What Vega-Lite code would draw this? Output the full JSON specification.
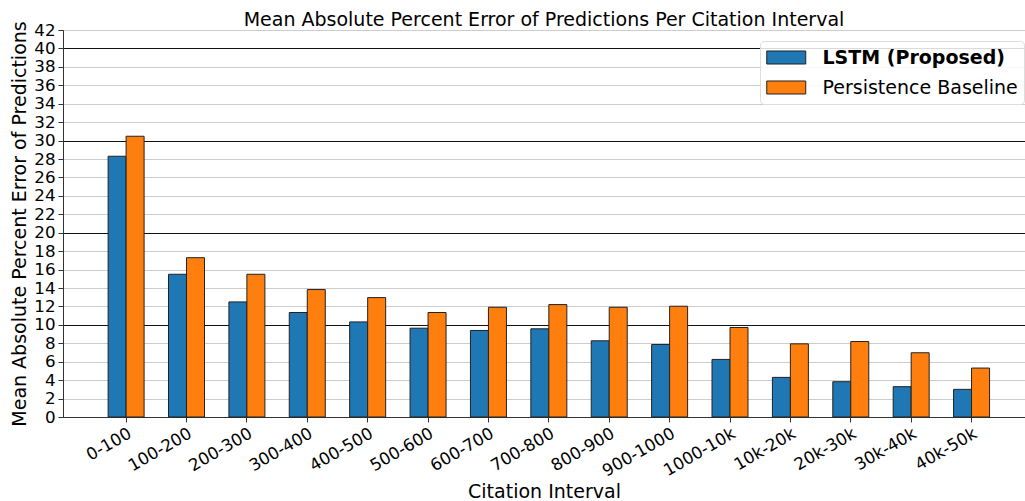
{
  "$schema": "https://vega.github.io/schema/vega-lite/v6.json",
  "width": 962,
  "height": 387,
  "autosize": {"type": "none"},
  "padding": {"left": 63, "top": 30, "right": 0, "bottom": 84},
  "background": "white",
  "config": {
    "font": "DejaVu Sans",
    "view": {"stroke": "#666", "strokeWidth": 1},
    "axis": {"labelFont": "DejaVu Sans", "titleFont": "DejaVu Sans", "labelColor": "#000", "titleColor": "#000", "titleFontWeight": "normal"}
  },
  "title": {"text": "Mean Absolute Percent Error of Predictions Per Citation Interval", "fontSize": 19, "fontWeight": "normal", "font": "DejaVu Sans", "color": "#000", "frame": "group", "offset": 4, "baseline": "alphabetic", "anchor": "middle", "dy": 28},
  "data": {
    "values": [
      {"interval": "0-100", "model": "LSTM (Proposed)", "mape": 28.3},
      {"interval": "0-100", "model": "Persistence Baseline", "mape": 30.47},
      {"interval": "100-200", "model": "LSTM (Proposed)", "mape": 15.49},
      {"interval": "100-200", "model": "Persistence Baseline", "mape": 17.29},
      {"interval": "200-300", "model": "LSTM (Proposed)", "mape": 12.49},
      {"interval": "200-300", "model": "Persistence Baseline", "mape": 15.49},
      {"interval": "300-400", "model": "LSTM (Proposed)", "mape": 11.34},
      {"interval": "300-400", "model": "Persistence Baseline", "mape": 13.83},
      {"interval": "400-500", "model": "LSTM (Proposed)", "mape": 10.32},
      {"interval": "400-500", "model": "Persistence Baseline", "mape": 12.96},
      {"interval": "500-600", "model": "LSTM (Proposed)", "mape": 9.64},
      {"interval": "500-600", "model": "Persistence Baseline", "mape": 11.34},
      {"interval": "600-700", "model": "LSTM (Proposed)", "mape": 9.39},
      {"interval": "600-700", "model": "Persistence Baseline", "mape": 11.91},
      {"interval": "700-800", "model": "LSTM (Proposed)", "mape": 9.57},
      {"interval": "700-800", "model": "Persistence Baseline", "mape": 12.2},
      {"interval": "800-900", "model": "LSTM (Proposed)", "mape": 8.27},
      {"interval": "800-900", "model": "Persistence Baseline", "mape": 11.91},
      {"interval": "900-1000", "model": "LSTM (Proposed)", "mape": 7.87},
      {"interval": "900-1000", "model": "Persistence Baseline", "mape": 12.02},
      {"interval": "1000-10k", "model": "LSTM (Proposed)", "mape": 6.25},
      {"interval": "1000-10k", "model": "Persistence Baseline", "mape": 9.71},
      {"interval": "10k-20k", "model": "LSTM (Proposed)", "mape": 4.3},
      {"interval": "10k-20k", "model": "Persistence Baseline", "mape": 7.94},
      {"interval": "20k-30k", "model": "LSTM (Proposed)", "mape": 3.83},
      {"interval": "20k-30k", "model": "Persistence Baseline", "mape": 8.19},
      {"interval": "30k-40k", "model": "LSTM (Proposed)", "mape": 3.29},
      {"interval": "30k-40k", "model": "Persistence Baseline", "mape": 6.97},
      {"interval": "40k-50k", "model": "LSTM (Proposed)", "mape": 3.0},
      {"interval": "40k-50k", "model": "Persistence Baseline", "mape": 5.31}
    ]
  },
  "mark": {"type": "bar", "stroke": "#222", "strokeWidth": 1},
  "encoding": {
    "x": {
      "field": "interval", "type": "nominal", "sort": null,
      "scale": {"paddingInner": 0.404, "paddingOuter": 0.667, "align": 0.56},
      "axis": {
        "title": "Citation Interval", "titleFontSize": 19, "titleY": 80, "titleBaseline": "alphabetic",
        "labelAngle": -30, "labelFontSize": 16.7, "labelAlign": "right", "labelBaseline": "top", "labelPadding": 3, "labelDx": -3,
        "tickColor": "#333", "tickSize": 5, "domainColor": "#333", "grid": false
      }
    },
    "xOffset": {"field": "model", "type": "nominal", "sort": ["LSTM (Proposed)", "Persistence Baseline"], "scale": {"paddingInner": 0, "paddingOuter": 0}},
    "y": {
      "field": "mape", "type": "quantitative",
      "scale": {"domain": [0, 42], "nice": false, "zero": true},
      "axis": {
        "title": "Mean Absolute Percent Error of Predictions", "titleFontSize": 19, "titlePadding": 4,
        "values": [0, 2, 4, 6, 8, 10, 12, 14, 16, 18, 20, 22, 24, 26, 28, 30, 32, 34, 36, 38, 40, 42],
        "labelFontSize": 16.7, "labelPadding": 3, "labelOverlap": false, "labelBound": false, "tickSize": 5, "tickColor": "#333", "domainColor": "#333",
        "grid": true,
        "gridColor": {"condition": {"test": "datum.value % 10 === 0", "value": "#111"}, "value": "#cccccc"},
        "gridWidth": {"condition": {"test": "datum.value % 10 === 0", "value": 1.2}, "value": 1}
      }
    },
    "color": {
      "field": "model", "type": "nominal",
      "scale": {"domain": ["LSTM (Proposed)", "Persistence Baseline"], "range": ["#1f77b4", "#ff7f0e"]},
      "legend": {
        "title": null, "orient": "none", "legendX": 697, "legendY": 11,
        "fillColor": "rgba(255,255,255,0.85)", "strokeColor": "#dddddd", "cornerRadius": 4, "padding": 6,
        "labelFontSize": 19, "labelFont": "DejaVu Sans", "labelColor": "#000", "labelOffset": 35.5, "rowPadding": 9, "labelLimit": 0,
        "symbolType": "M-1,-0.667H3V0.667H-1Z", "symbolSize": 380, "symbolStrokeColor": "#222", "symbolStrokeWidth": 1, "symbolOpacity": 1,
        "encode": {"labels": {"update": {"fontWeight": {"signal": "datum.label === 'LSTM (Proposed)' ? 'bold' : 'normal'"}}}}
      }
    }
  }
}
